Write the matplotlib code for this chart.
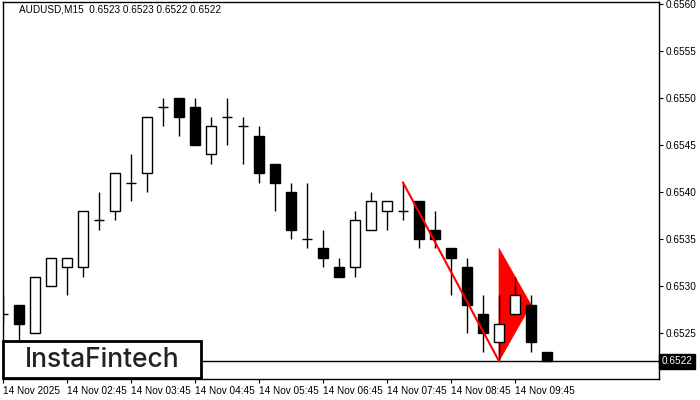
import matplotlib
matplotlib.use("Agg")
import matplotlib.pyplot as plt
from matplotlib.patches import Rectangle, Polygon

# Candles, 15-minute bars on 14 Nov 2025 (index 0 = first visible bar)
opens = [0.6527, 0.6528, 0.6525, 0.6530, 0.6532, 0.6532, 0.6537, 0.6538, 0.6541, 0.6542,
         0.6549, 0.6550, 0.6549, 0.6544, 0.6548, 0.6547, 0.6546, 0.6543, 0.6540, 0.6535,
         0.6534, 0.6532, 0.6532, 0.6536, 0.6538, 0.6538, 0.6539, 0.6536, 0.6534, 0.6532,
         0.6527, 0.6524, 0.6527, 0.6528, 0.6523]
highs = [0.6529, 0.6528, 0.6531, 0.6533, 0.6533, 0.6538, 0.6540, 0.6542, 0.6544, 0.6548,
         0.6550, 0.6550, 0.6550, 0.6548, 0.6550, 0.6548, 0.6547, 0.6543, 0.6541, 0.6541,
         0.6536, 0.6533, 0.6538, 0.6540, 0.6539, 0.6541, 0.6539, 0.6538, 0.6534, 0.6533,
         0.6529, 0.6529, 0.6531, 0.6529, 0.6523]
lows = [0.6526, 0.6524, 0.6525, 0.6530, 0.6529, 0.6531, 0.6536, 0.6537, 0.6539, 0.6540,
        0.6547, 0.6546, 0.6545, 0.6543, 0.6545, 0.6543, 0.6541, 0.6538, 0.6535, 0.6534,
        0.6532, 0.6531, 0.6531, 0.6536, 0.6536, 0.6537, 0.6534, 0.6534, 0.6529, 0.6525,
        0.6523, 0.6522, 0.6527, 0.6523, 0.6522]
closes = [0.6527, 0.6526, 0.6531, 0.6533, 0.6533, 0.6538, 0.6537, 0.6542, 0.6541, 0.6548,
          0.6549, 0.6548, 0.6545, 0.6547, 0.6548, 0.6547, 0.6542, 0.6541, 0.6536, 0.6535,
          0.6533, 0.6531, 0.6537, 0.6539, 0.6539, 0.6538, 0.6535, 0.6535, 0.6533, 0.6528,
          0.6525, 0.6526, 0.6529, 0.6524, 0.6522]

# Bearish pennant: pole from bar 25 high to bar 31, flag triangle after it
pole_x = [25, 31]
pole_y = [0.6541, 0.6522]
flag_x = [31, 31, 33]
flag_y = [0.6522, 0.6534, 0.6528]

last_price = 0.6522
title = "AUDUSD,M15  0.6523 0.6523 0.6522 0.6522"

price_ticks = [0.6525, 0.6530, 0.6535, 0.6540, 0.6545, 0.6550, 0.6555, 0.6560]
time_tick_pos = [0, 4, 8, 12, 16, 20, 24, 28, 32]
time_tick_labels = ["14 Nov 2025", "14 Nov 02:45", "14 Nov 03:45", "14 Nov 04:45",
                    "14 Nov 05:45", "14 Nov 06:45", "14 Nov 07:45", "14 Nov 08:45",
                    "14 Nov 09:45"]

plt.rcParams["font.family"] = ["Liberation Sans", "DejaVu Sans"]

W, H = 700, 400
fig = plt.figure(figsize=(7, 4), dpi=100)
ax = fig.add_axes([3 / W, 21 / H, 656 / W, 377 / H])
ax.set_xlim(0, 41)
ax.set_ylim(0.65201, 0.65602)

body_w = 0.66
for i, (o, h, l, c) in enumerate(zip(opens, highs, lows, closes)):
    ax.vlines(i, l, h, color="black", lw=1.0, zorder=3)
    if abs(c - o) < 1e-9:
        ax.hlines(o, i - body_w / 2, i + body_w / 2, color="black", lw=1.0, zorder=3)
    else:
        bear = c < o
        ax.add_patch(Rectangle((i - body_w / 2, min(o, c)), body_w, abs(c - o),
                               facecolor="black" if bear else "white",
                               edgecolor="black", lw=1.0, zorder=4))

# current price line
ax.axhline(last_price, color="black", lw=1.0, zorder=2)

# pattern: pole over candles, flag under them
ax.plot(pole_x, pole_y, color="red", lw=1.5, zorder=5)
ax.add_patch(Polygon(list(zip(flag_x, flag_y)), closed=True, facecolor="red",
                     edgecolor="red", lw=0.5, zorder=2.5))

# axes styling
for s in ax.spines.values():
    s.set_linewidth(1.0)
    s.set_color("black")
ax.yaxis.tick_right()
ax.set_yticks(price_ticks)
ax.set_yticklabels([f"{p:.4f}" for p in price_ticks], fontsize=7.2)
ax.tick_params(axis="y", direction="out", length=3, width=0.8, pad=2)
ax.set_xticks(time_tick_pos)
ax.set_xticklabels(time_tick_labels, fontsize=7.2, ha="left")
ax.tick_params(axis="x", direction="out", length=3, width=0.8, pad=2)

# last price label
ax.text(1.004, last_price, f"{last_price:.4f}", transform=ax.get_yaxis_transform(),
        va="center", ha="left", fontsize=7.2, color="white",
        bbox=dict(boxstyle="square,pad=0.25", facecolor="black", edgecolor="black"))

ax.text(16 / 656, 1 - 8 / 377, title, transform=ax.transAxes, fontsize=7.2,
        va="center", ha="left", color="black")

# logo box
ax.add_patch(Rectangle((0, 1 / 377), 198 / 656, 37 / 377, transform=ax.transAxes,
                       facecolor="white", edgecolor="black", lw=2.0, zorder=10,
                       clip_on=False))
ax.text(99 / 656, 19 / 377, "InstaFintech", transform=ax.transAxes, fontsize=19,
        family="Inter", fontweight="medium", color="#222222", va="center",
        ha="center", zorder=11)

fig.savefig("out.png", dpi=100)
